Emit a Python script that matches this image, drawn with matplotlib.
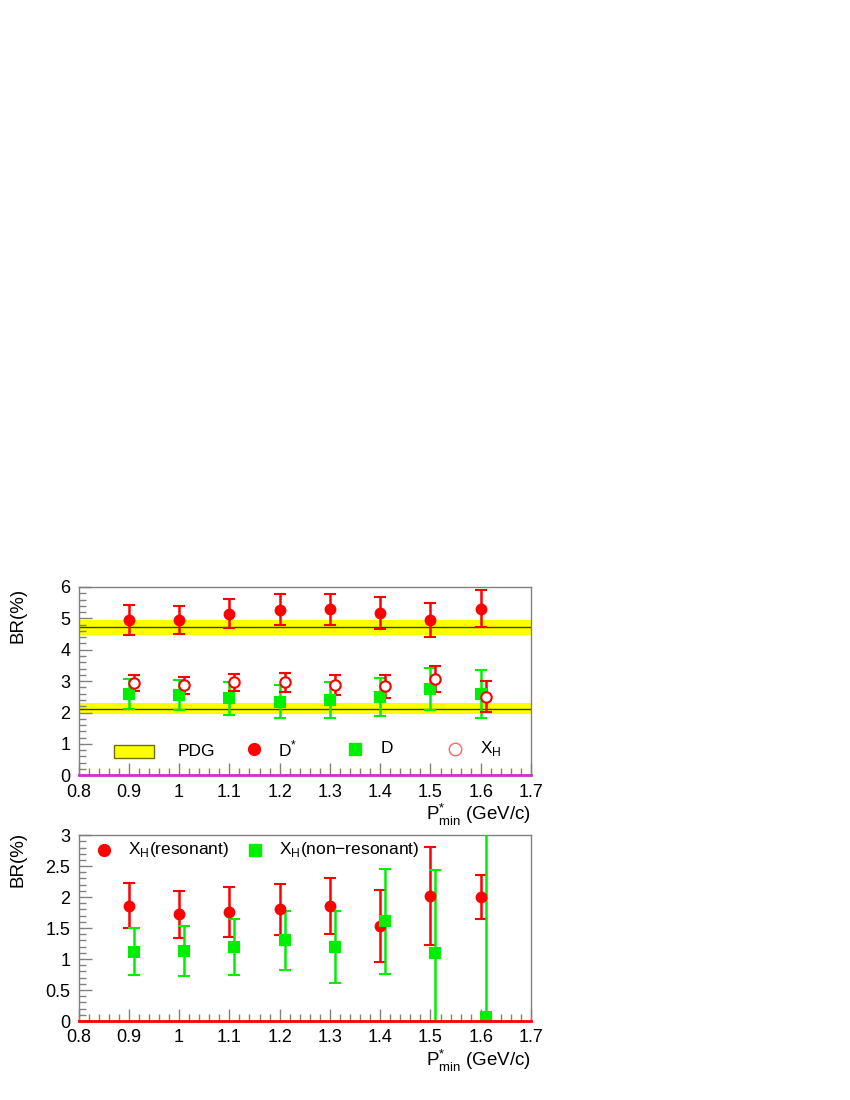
import matplotlib
matplotlib.use("Agg")
import matplotlib.pyplot as plt
from matplotlib.ticker import MultipleLocator
from matplotlib.patches import Rectangle

plt.rcParams["font.family"] = ["Liberation Sans", "DejaVu Sans"]
plt.rcParams["mathtext.fontset"] = "custom"
plt.rcParams["mathtext.rm"] = "Liberation Sans"

# P*_min values (GeV/c)
pmin = [0.9, 1.0, 1.1, 1.2, 1.3, 1.4, 1.5, 1.6]

# top panel: BR(%) for D*, D and X_H
br_dstar = [4.95, 4.94, 5.15, 5.28, 5.29, 5.18, 4.94, 5.31]
err_dstar = [0.47, 0.45, 0.47, 0.48, 0.49, 0.51, 0.55, 0.59]
br_d = [2.58, 2.56, 2.45, 2.35, 2.39, 2.50, 2.76, 2.58]
err_d = [0.48, 0.48, 0.52, 0.54, 0.57, 0.61, 0.67, 0.77]
br_xh = [2.94, 2.87, 2.96, 2.96, 2.88, 2.83, 3.06, 2.50]
err_xh = [0.27, 0.27, 0.28, 0.30, 0.31, 0.36, 0.41, 0.49]

# PDG reference values (central, error)
pdg_dstar = (4.72, 0.24)
pdg_d = (2.12, 0.17)

# bottom panel: X_H resonant / non-resonant
br_res = [1.86, 1.72, 1.76, 1.80, 1.85, 1.53, 2.02, 2.00]
err_res = [0.36, 0.38, 0.40, 0.41, 0.45, 0.58, 0.79, 0.36]
br_nonres = [1.12, 1.13, 1.20, 1.30, 1.19, 1.61, 1.09, 0.07]
err_nonres = [0.38, 0.41, 0.45, 0.48, 0.58, 0.85, 1.35, 3.2]

shift = 0.01  # X_H points drawn slightly to the right

RED = "#ff0000"
GREEN = "#00ee00"
YELLOW = "#ffff00"
FRAME = "#808080"
XLABEL = r"P$^{*}_{\mathrm{min}}$ (GeV/c)"


def style_axes(ax, ymax, ymajor, yminor, base_color):
    ax.set_xlim(0.8, 1.7)
    ax.set_ylim(0, ymax)
    ax.xaxis.set_major_locator(MultipleLocator(0.1))
    ax.xaxis.set_minor_locator(MultipleLocator(0.02))
    ax.yaxis.set_major_locator(MultipleLocator(ymajor))
    ax.yaxis.set_minor_locator(MultipleLocator(yminor))
    ax.tick_params(which="both", direction="in", color=FRAME, labelsize=13,
                   top=False, right=False, pad=6)
    ax.tick_params(which="major", length=9, width=1)
    ax.tick_params(which="minor", length=5, width=1)
    for s in ax.spines.values():
        s.set_color(FRAME)
        s.set_linewidth(1)
    ax.xaxis.set_major_formatter(plt.FuncFormatter(lambda v, p: f"{v:g}"))
    ax.yaxis.set_major_formatter(plt.FuncFormatter(lambda v, p: f"{v:g}"))
    ax.axhline(0, color=base_color, lw=2, zorder=5, clip_on=False)
    ax.set_xlabel(XLABEL, fontsize=13.5, loc="right", labelpad=1)


def errbar(ax, x, y, e, color, marker, face=None, ms=7):
    ax.errorbar(x, y, yerr=e, fmt=marker, color=color, ecolor=color,
                mfc=face if face else color, mec=color, ms=ms, mew=1.5,
                elinewidth=1.8, capsize=4, capthick=1.8, zorder=4)


fig = plt.figure(figsize=(8.5, 11), dpi=100)
ax1 = fig.add_axes([0.0924, 0.2952, 0.5323, 0.1712])
ax2 = fig.add_axes([0.0924, 0.0718, 0.5323, 0.1690])

# ---- top panel ----
for val, err in (pdg_dstar, pdg_d):
    ax1.axhspan(val - err, val + err, color=YELLOW, zorder=1, lw=0)
    ax1.axhline(val, color="#404000", lw=1, zorder=2)

errbar(ax1, pmin, br_d, err_d, GREEN, "s")
errbar(ax1, pmin, br_dstar, err_dstar, RED, "o")
errbar(ax1, [p + shift for p in pmin], br_xh, err_xh, RED, "o", face="white", ms=7.5)

style_axes(ax1, 6, 1, 0.2, "#cc33cc")

# legend row
ax1.add_patch(Rectangle((0.871, 0.55), 0.08, 0.42, facecolor=YELLOW,
                        edgecolor="#707000", lw=1, zorder=3))
ax1.text(0.998, 0.75, "PDG", fontsize=12.5, va="center")
ax1.plot(1.15, 0.85, "o", color=RED, ms=8.5, zorder=4)
ax1.text(1.197, 0.85, r"D$^{*}$", fontsize=12.5, va="center")
ax1.plot(1.35, 0.85, "s", color=GREEN, ms=8.5, zorder=4)
ax1.text(1.40, 0.85, "D", fontsize=12.5, va="center")
ax1.plot(1.549, 0.85, "o", mfc="white", mec="#ff6666", ms=9, zorder=4)
ax1.text(1.598, 0.85, r"X$_{\mathrm{H}}$", fontsize=12.5, va="center")

# ---- bottom panel ----
errbar(ax2, pmin, br_res, err_res, RED, "o")
errbar(ax2, [p + shift for p in pmin], br_nonres, err_nonres, GREEN, "s")

style_axes(ax2, 3, 0.5, 0.1, RED)

ax2.plot(0.851, 2.76, "o", color=RED, ms=8.5, clip_on=False)
ax2.text(0.898, 2.76, r"X$_{\mathrm{H}}$(resonant)", fontsize=12.5, va="center")
ax2.plot(1.151, 2.76, "s", color=GREEN, ms=8.5, clip_on=False)
ax2.text(1.199, 2.76, r"X$_{\mathrm{H}}$(non$-$resonant)", fontsize=12.5, va="center")

# y titles, top-aligned like the original
fig.text(18 / 850, 1 - 588 / 1100, "BR(%)", rotation=90, va="top", ha="center", fontsize=13.5)
fig.text(18 / 850, 1 - 832 / 1100, "BR(%)", rotation=90, va="top", ha="center", fontsize=13.5)

fig.savefig("out.png", dpi=100)
